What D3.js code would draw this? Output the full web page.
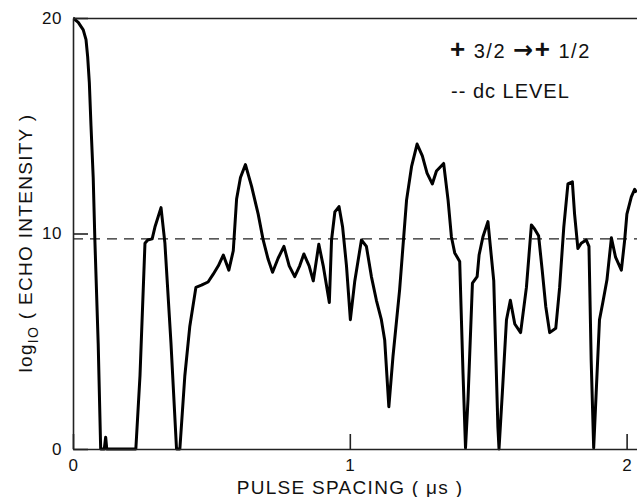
<!DOCTYPE html>
<html>
<head>
<meta charset="utf-8">
<script src="https://cdn.jsdelivr.net/npm/d3@7"></script>
<style>
  body { margin: 0; background: #fff; }
  text { font-family: "Liberation Sans", Arial, Helvetica, sans-serif; fill: #111; }
</style>
</head>
<body>
<svg id="chart" width="637" height="497"></svg>
<script>
// pulse spacing (us) and log10 echo intensity
var pulseSpacing = [
  0, 0.019, 0.037, 0.047, 0.053, 0.059, 0.065, 0.073, 0.079, 0.091, 0.1, 0.113, 0.118, 0.122,
  0.227, 0.242, 0.26, 0.27, 0.286, 0.296, 0.318, 0.332, 0.354, 0.374, 0.386,
  0.404, 0.422, 0.444, 0.464, 0.488, 0.506, 0.525, 0.543, 0.563, 0.579, 0.591,
  0.605, 0.623, 0.645, 0.669, 0.687, 0.705, 0.721, 0.741, 0.762, 0.781, 0.801,
  0.819, 0.834, 0.853, 0.868, 0.888, 0.904, 0.926, 0.934, 0.946, 0.961, 0.974,
  0.988, 1.002, 1.018, 1.042, 1.06, 1.078, 1.096, 1.114, 1.126, 1.141, 1.156,
  1.18, 1.205, 1.223, 1.243, 1.262, 1.279, 1.298, 1.313, 1.339, 1.355, 1.367,
  1.379, 1.397, 1.409, 1.418, 1.427, 1.443, 1.46, 1.467, 1.481, 1.499, 1.52,
  1.535, 1.539, 1.551, 1.566, 1.58, 1.596, 1.617, 1.638, 1.656, 1.668, 1.682,
  1.695, 1.708, 1.722, 1.744, 1.758, 1.773, 1.788, 1.804, 1.812, 1.824, 1.836,
  1.854, 1.864, 1.872, 1.881, 1.89, 1.902, 1.914, 1.929, 1.945, 1.96, 1.981,
  1.993, 2.001, 2.017, 2.029, 2.036
];
var echoIntensity = [
  20, 19.8, 19.45, 19.0, 18.2, 17.0, 15.0, 12.6, 9.7, 4.9, 0, 0, 0.55, 0,
  0, 3.4, 9.55, 9.7, 9.75, 10.3, 11.2, 9.55, 4.9, 0, 0,
  3.4, 5.7, 7.5, 7.6, 7.75, 8.1, 8.5, 9.0, 8.3, 9.2, 11.6,
  12.6, 13.2, 12.2, 10.9, 9.7, 8.8, 8.2, 8.85, 9.4, 8.5, 8.0,
  8.5, 9.05, 8.5, 7.8, 9.5, 8.5, 6.8, 9.7, 11.0, 11.25, 10.3,
  8.5, 6.0, 7.8, 9.7, 9.4, 8.0, 6.9, 6.0, 5.06, 1.96, 4.3,
  7.4, 11.55, 13.1, 14.15, 13.6, 12.8, 12.3, 12.9, 13.25, 11.55, 9.85,
  9.1, 8.7, 3.5, 0.05, 2.3, 7.7, 8.0, 9.0, 9.85, 10.55, 7.8,
  1.0, 0, 2.6, 6.0, 6.9, 5.8, 5.4, 7.5, 10.4, 10.2, 9.9,
  8.3, 6.6, 5.4, 5.6, 7.5, 10.3, 12.3, 12.4, 10.9, 9.3, 9.55,
  9.7, 9.4, 4.1, 0.05, 2.6, 6.0, 6.8, 7.85, 9.8, 8.9, 8.3,
  9.7, 10.9, 11.7, 12.05, 11.9
];
var dcLevel = 9.75;
var xTicks = [0, 1, 2];
var yTicks = [0, 10, 20];

var svg = d3.select('#chart');

var xScale = d3.scaleLinear()
  .domain([0, 2.0375])
  .range([73, 637]);
var yScale = d3.scaleLinear()
  .domain([0, 20])
  .range([449, 18]);

svg.append('clipPath')
  .attr('id', 'plot-clip')
  .append('rect')
  .attr('x', 73)
  .attr('y', 10)
  .attr('width', 564)
  .attr('height', 441);

// dc level
svg.append('line')
  .attr('x1', xScale(0))
  .attr('x2', xScale(2.0375))
  .attr('y1', yScale(dcLevel))
  .attr('y2', yScale(dcLevel))
  .attr('stroke', '#222')
  .attr('stroke-width', 1.3)
  .attr('stroke-dasharray', '10,7');

// echo curve
var points = pulseSpacing.map(function (d, i) {
  return [d, echoIntensity[i]];
});
var line = d3.line()
  .x(function (d) { return xScale(d[0]); })
  .y(function (d) { return yScale(d[1]); });

svg.append('path')
  .datum(points)
  .attr('d', line)
  .attr('clip-path', 'url(#plot-clip)')
  .attr('fill', 'none')
  .attr('stroke', '#000')
  .attr('stroke-width', 3)
  .attr('stroke-linejoin', 'round');

// axes (ticks point inward)
svg.append('g')
  .attr('transform', 'translate(0,449)')
  .call(d3.axisBottom(xScale)
    .tickValues(xTicks)
    .tickFormat(d3.format('d'))
    .tickSizeInner(-15)
    .tickSizeOuter(0)
    .tickPadding(10));

svg.append('g')
  .attr('transform', 'translate(73,0)')
  .call(d3.axisLeft(yScale)
    .tickValues(yTicks)
    .tickFormat(d3.format('d'))
    .tickSizeInner(-15)
    .tickSizeOuter(0)
    .tickPadding(11));

svg.append('g')
  .attr('transform', 'translate(0,18)')
  .call(d3.axisTop(xScale).tickValues([]).tickSizeOuter(0));

svg.selectAll('.domain').attr('stroke', '#222').attr('stroke-width', 1.6);
svg.selectAll('.tick line').attr('stroke', '#222').attr('stroke-width', 1.6);
svg.selectAll('.tick text')
  .attr('font-family', '"Liberation Sans", Arial, sans-serif')
  .attr('font-size', 17)
  .attr('letter-spacing', 0.5)
  .attr('fill', '#111');

// axis titles
svg.append('text')
  .attr('x', 350)
  .attr('y', 494)
  .attr('text-anchor', 'middle')
  .attr('font-size', 19)
  .attr('letter-spacing', 1.3)
  .text('PULSE SPACING ( \u03bcs )');

var yTitle = svg.append('text')
  .attr('transform', 'translate(32,243) rotate(-90)')
  .attr('text-anchor', 'middle')
  .attr('font-size', 19)
  .attr('letter-spacing', 1.3);
yTitle.append('tspan').text('log');
yTitle.append('tspan').attr('font-size', 14).attr('dy', 6).text('IO');
yTitle.append('tspan').attr('dy', -6).text(' ( ECHO INTENSITY )');

// legend
var legend = svg.append('text')
  .attr('x', 450)
  .attr('y', 58)
  .attr('font-size', 20)
  .attr('letter-spacing', 1.5);
legend.append('tspan').attr('font-size', 26).attr('font-weight', 'bold').text('+');
legend.append('tspan').text(' 3/2 ');
legend.append('tspan').attr('font-family', '"DejaVu Sans", sans-serif').attr('font-size', 24).attr('font-weight', 'bold').text('\u2192');
legend.append('tspan').attr('font-size', 26).attr('font-weight', 'bold').text('+');
legend.append('tspan').text(' 1/2');

svg.append('text')
  .attr('x', 451)
  .attr('y', 98)
  .attr('font-size', 20)
  .attr('letter-spacing', 1)
  .text('-- dc LEVEL');
</script>
</body>
</html>
